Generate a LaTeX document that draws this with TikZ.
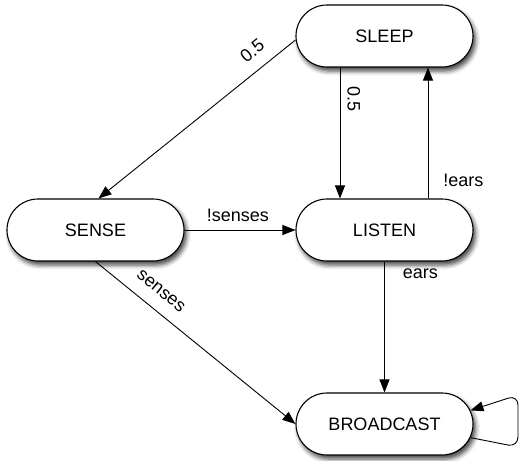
\documentclass[tikz,border=0pt]{standalone}
\usepackage{fontspec}
\setmainfont{Liberation Sans}
\usetikzlibrary{shapes.misc,shadows.blur,arrows.meta}
\begin{document}
\begin{tikzpicture}[x=1pt,y=-1pt,
  state/.style={rounded rectangle, draw, line width=1.1pt, fill=white,
    minimum width=177pt, minimum height=62pt, inner sep=0pt,
    font=\fontsize{18}{20}\selectfont,
    blur shadow={shadow xshift=2.5pt, shadow yshift=-4pt, shadow blur radius=4.5pt, shadow opacity=75}},
  tr/.style={line width=0.9pt, -{Triangle[length=13pt,width=10pt]}},
  lab/.style={font=\fontsize{18}{20}\selectfont, inner sep=0pt}]
\useasboundingbox (0,0) rectangle (520,461);
\node[state] (sleep) at (384.5,36) {SLEEP};
\node[state] (sense) at (95.5,230) {SENSE};
\node[state] (listen) at (384.5,230) {LISTEN};
\node[state] (bcast) at (384.5,424) {BROADCAST};
\draw[tr] ([yshift=-4pt]sleep.west) -- ([xshift=3pt]sense.north)
  node[lab, pos=0.16, rotate=38.8, anchor=south, inner sep=12pt] {0.5};
\draw[tr] ([xshift=-44.5pt]sleep.south) -- ([xshift=-44.5pt]listen.north)
  node[lab, pos=0.24, rotate=-90, anchor=south, inner sep=7pt] {0.5};
\draw[tr] ([xshift=43.5pt]listen.north) -- ([xshift=43.5pt]sleep.south)
  node[lab, pos=0, anchor=south west, xshift=15pt, yshift=11pt] {!ears};
\draw[tr] (sense.east) -- (listen.west)
  node[lab, pos=0.48, anchor=south, yshift=8pt] {!senses};
\draw[tr] (sense.south) -- (bcast.west)
  node[lab, pos=0.27, rotate=-39.1, anchor=south, inner sep=13pt] {senses};
\draw[tr] (listen.south) -- (bcast.north)
  node[lab, pos=0, anchor=north west, xshift=18pt, yshift=-7pt] {ears};
\draw[tr, rounded corners=10pt] (bcast.-9) -- (518,447) -- (518,395) -- (bcast.9);
\end{tikzpicture}
\end{document}
